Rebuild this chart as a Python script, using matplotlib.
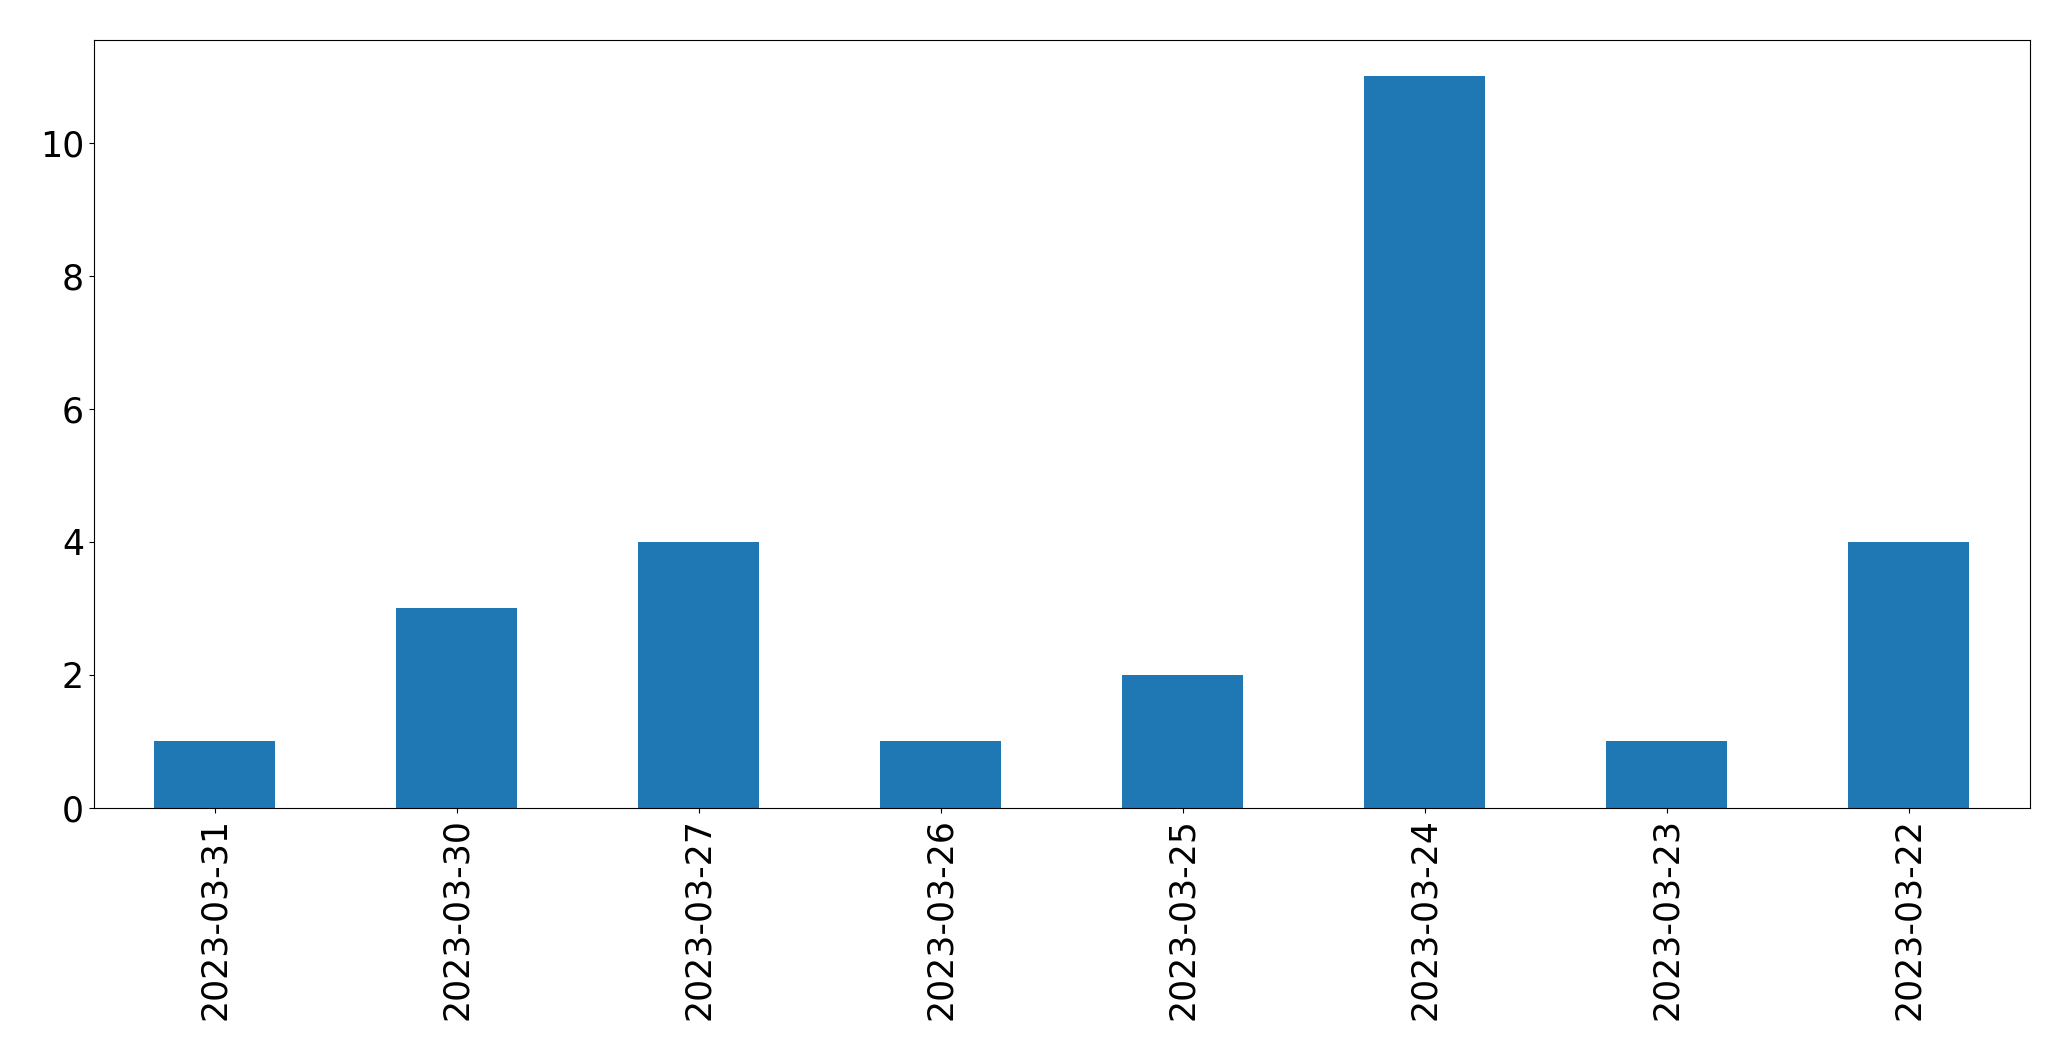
import matplotlib
matplotlib.use("Agg")
import matplotlib.pyplot as plt
import pandas as pd

dates = ["2023-03-31", "2023-03-30", "2023-03-27", "2023-03-26",
         "2023-03-25", "2023-03-24", "2023-03-23", "2023-03-22"]
counts = [1, 3, 4, 1, 2, 11, 1, 4]

s = pd.Series(counts, index=dates)

fig = plt.figure(figsize=(20.71, 10.61), dpi=100)
ax = fig.add_axes([0.0453, 0.2385, 0.9347, 0.7242])
s.plot(kind="bar", ax=ax, color="#1f77b4")
ax.tick_params(axis="both", labelsize=25)
ax.set_yticks([0, 2, 4, 6, 8, 10])

fig.savefig("out.png", dpi=100)
